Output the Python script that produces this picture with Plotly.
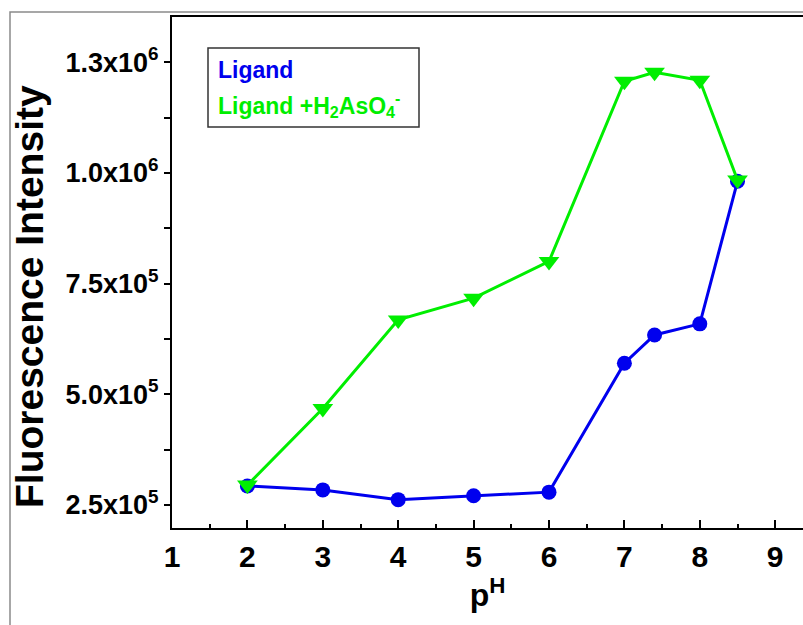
import plotly.graph_objects as go

# ---- data ----
ph = [2, 3, 4, 5, 6, 7, 7.4, 8, 8.5]
ligand = [2.93e5, 2.84e5, 2.62e5, 2.71e5, 2.79e5, 5.70e5, 6.34e5, 6.59e5, 9.81e5]
ligand_as = [2.95e5, 4.68e5, 6.68e5, 7.17e5, 8.00e5, 1.207e6, 1.227e6, 1.209e6, 9.84e5]

y_tickvals = [2.5e5, 5.0e5, 7.5e5, 1.0e6, 1.25e6]
y_ticktext = ["2.5x10<sup>5</sup>", "5.0x10<sup>5</sup>", "7.5x10<sup>5</sup>",
              "1.0x10<sup>6</sup>", "1.3x10<sup>6</sup>"]
x_tickvals = [1, 2, 3, 4, 5, 6, 7, 8, 9]

BLUE = "#0000EE"
GREEN = "#00EE00"
FONT = "Liberation Sans, Arial, sans-serif"

W, H = 803, 625
ML, MT, MB, MR = 172, 17, 97, 0
plot_w = W - ML - MR
plot_h = H - MT - MB


def px_x(px):
    return (px - ML) / plot_w


def px_y(py):
    return (H - MB - py) / plot_h


fig = go.Figure()
fig.add_trace(go.Scatter(
    x=ph, y=ligand, mode="lines+markers", name="Ligand",
    line=dict(color=BLUE, width=3),
    marker=dict(symbol="circle", size=15, color=BLUE),
))
fig.add_trace(go.Scatter(
    x=ph, y=ligand_as, mode="lines+markers", name="Ligand +H2AsO4-",
    line=dict(color=GREEN, width=3),
    marker=dict(symbol="triangle-down", size=18, color=GREEN),
))

fig.update_layout(
    width=W, height=H,
    margin=dict(l=ML, r=MR, t=MT, b=MB, pad=0),
    paper_bgcolor="white", plot_bgcolor="white",
    showlegend=False,
    font=dict(family=FONT, color="black"),
)

fig.update_xaxes(
    range=[1, 1 + plot_w / 75.4],
    tickvals=x_tickvals,
    ticks="inside", ticklen=8, tickwidth=2, tickcolor="black",
    minor=dict(dtick=0.5, ticks="inside", ticklen=4, tickwidth=2, tickcolor="black"),
    showline=True, linecolor="black", linewidth=2, mirror=True,
    showgrid=False, zeroline=False,
    tickfont=dict(family=FONT, size=30, weight="bold"),
    ticklabelstandoff=1,
    title=dict(text="p<sup>H</sup>", font=dict(family=FONT, size=32, weight="bold"), standoff=8),
)
fig.update_yaxes(
    range=[1.98e5, 1.352e6],
    tickvals=y_tickvals, ticktext=y_ticktext,
    ticks="outside", ticklen=6, tickwidth=2, tickcolor="black",
    minor=dict(tickvals=[3.75e5, 6.25e5, 8.75e5, 1.125e6], ticks="outside", ticklen=6,
               tickwidth=2, tickcolor="black"),
    showline=True, linecolor="black", linewidth=2, mirror=False,
    showgrid=False, zeroline=False,
    tickfont=dict(family=FONT, size=27, weight="bold"),
)

# y-axis title (placed off-centre as in the reference)
fig.add_annotation(xref="paper", yref="paper", x=px_x(29), y=px_y(297),
                   xanchor="center", yanchor="middle", showarrow=False, textangle=-90,
                   text="Fluorescence Intensity",
                   font=dict(family=FONT, size=39, color="black", weight="bold"))

# outer gray frame
fig.add_shape(type="rect", xref="paper", yref="paper",
              x0=px_x(10), x1=px_x(900), y0=px_y(700), y1=px_y(12),
              line=dict(color="#8a8a8a", width=1.5), fillcolor="rgba(0,0,0,0)", layer="below")
# legend box
fig.add_shape(type="rect", xref="paper", yref="paper",
              x0=px_x(208), x1=px_x(419), y0=px_y(127), y1=px_y(48),
              line=dict(color="#333333", width=1.5), fillcolor="white")
fig.add_annotation(xref="paper", yref="paper", x=px_x(216), y=px_y(70),
                   xanchor="left", yanchor="middle", showarrow=False,
                   text="Ligand", font=dict(family=FONT, size=23, color=BLUE, weight="bold"))
fig.add_annotation(xref="paper", yref="paper", x=px_x(216), y=px_y(105),
                   xanchor="left", yanchor="middle", showarrow=False,
                   text="Ligand +H<sub>2</sub>AsO<sub>4</sub><sup>-</sup>",
                   font=dict(family=FONT, size=23, color=GREEN, weight="bold"))

fig.write_html("out.html")
